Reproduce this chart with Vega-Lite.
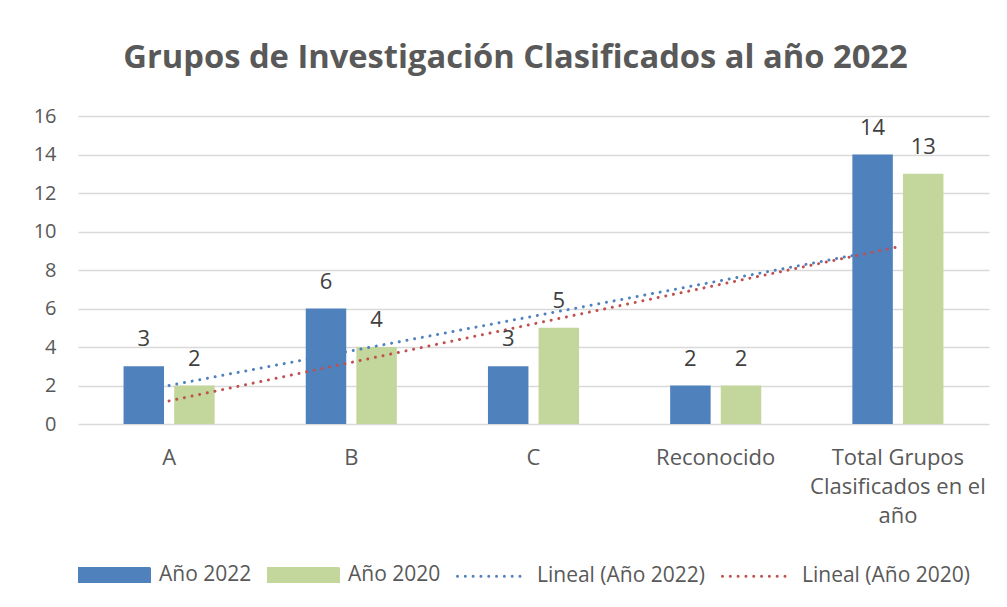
{
  "$schema": "https://vega.github.io/schema/vega-lite/v6.json",
  "width": 911,
  "height": 308,
  "autosize": {"type": "none"},
  "padding": {"left": 78, "top": 116, "right": 18, "bottom": 183},
  "background": "white",
  "title": {
    "text": "Grupos de Investigación Clasificados al año 2022",
    "font": "Open Sans",
    "fontSize": 32.7,
    "fontWeight": "bold",
    "color": "#595959",
    "anchor": "middle",
    "dx": -18,
    "offset": 31
  },
  "config": {
    "view": {"stroke": null},
    "font": "Open Sans"
  },
  "datasets": {
    "barras": [
      {"cat": "A", "serie": "Año 2022", "valor": 3},
      {"cat": "A", "serie": "Año 2020", "valor": 2},
      {"cat": "B", "serie": "Año 2022", "valor": 6},
      {"cat": "B", "serie": "Año 2020", "valor": 4},
      {"cat": "C", "serie": "Año 2022", "valor": 3},
      {"cat": "C", "serie": "Año 2020", "valor": 5},
      {"cat": "Reconocido", "serie": "Año 2022", "valor": 2},
      {"cat": "Reconocido", "serie": "Año 2020", "valor": 2},
      {"cat": "Total Grupos Clasificados en el año", "serie": "Año 2022", "valor": 14},
      {"cat": "Total Grupos Clasificados en el año", "serie": "Año 2020", "valor": 13}
    ],
    "tendencia": [
      {"cat": "A", "serie": "Lineal (Año 2022)", "valor": 2.0},
      {"cat": "B", "serie": "Lineal (Año 2022)", "valor": 3.8},
      {"cat": "C", "serie": "Lineal (Año 2022)", "valor": 5.6},
      {"cat": "Reconocido", "serie": "Lineal (Año 2022)", "valor": 7.4},
      {"cat": "Total Grupos Clasificados en el año", "serie": "Lineal (Año 2022)", "valor": 9.2},
      {"cat": "A", "serie": "Lineal (Año 2020)", "valor": 1.2},
      {"cat": "B", "serie": "Lineal (Año 2020)", "valor": 3.2},
      {"cat": "C", "serie": "Lineal (Año 2020)", "valor": 5.2},
      {"cat": "Reconocido", "serie": "Lineal (Año 2020)", "valor": 7.2},
      {"cat": "Total Grupos Clasificados en el año", "serie": "Lineal (Año 2020)", "valor": 9.2}
    ]
  },
  "encoding": {
    "x": {
      "field": "cat",
      "type": "nominal",
      "sort": null,
      "scale": {
        "domain": ["A", "B", "C", "Reconocido", "Total Grupos Clasificados en el año"],
        "paddingInner": 0.5,
        "paddingOuter": 0.25
      },
      "axis": {
        "title": null,
        "labelAngle": 0,
        "labelFontSize": 22,
        "labelColor": "#595959",
        "labelPadding": 23,
        "labelLineHeight": 29,
        "labelLimit": 0,
        "domain": false,
        "ticks": false,
        "labelExpr": "datum.value == 'Total Grupos Clasificados en el año' ? ['Total Grupos', 'Clasificados en el', 'año'] : datum.value"
      }
    },
    "y": {
      "field": "valor",
      "type": "quantitative",
      "scale": {"domain": [0, 16], "nice": false},
      "axis": {
        "title": null,
        "values": [0, 2, 4, 6, 8, 10, 12, 14, 16],
        "grid": true,
        "gridColor": "#D9D9D9",
        "gridWidth": 1.5,
        "domain": false,
        "ticks": false,
        "labelFontSize": 20,
        "labelColor": "#595959",
        "labelPadding": 22
      }
    }
  },
  "layer": [
    {
      "data": {"name": "barras"},
      "mark": {"type": "bar"},
      "encoding": {
        "xOffset": {
          "field": "serie",
          "type": "nominal",
          "scale": {"domain": ["Año 2022", "Año 2020"], "paddingInner": 0.2, "paddingOuter": 0}
        },
        "color": {
          "field": "serie",
          "type": "nominal",
          "scale": {
            "domain": ["Año 2022", "Año 2020", "Lineal (Año 2022)", "Lineal (Año 2020)"],
            "range": ["#4F81BD", "#C3D69B", "#4F81BD", "#C0504D"]
          },
          "legend": {
            "orient": "bottom",
            "direction": "horizontal",
            "columns": 4,
            "title": null,
            "labelFontSize": 21,
            "labelColor": "#595959",
            "labelOffset": 8,
            "labelLimit": 400,
            "columnPadding": 10,
            "symbolSize": 4900,
            "offset": 12,
            "encode": {
              "symbols": {
                "update": {
                  "shape": {"signal": "datum.index < 2 ? 'M-1,-0.186H1V0.186H-1Z' : 'stroke'"},
                  "fill": {"signal": "datum.index < 2 ? scale('color', datum.value) : 'transparent'"},
                  "stroke": {"signal": "datum.index < 2 ? 'transparent' : scale('color', datum.value)"},
                  "strokeWidth": {"value": 3},
                  "strokeCap": {"value": "round"},
                  "strokeDash": {"signal": "datum.index < 2 ? [1, 0] : [0.01, 7.8]"},
                  "opacity": {"value": 1}
                }
              }
            }
          }
        }
      }
    },
    {
      "data": {"name": "tendencia"},
      "mark": {"type": "line", "strokeWidth": 3, "strokeCap": "round", "strokeDash": [0.01, 7.8]},
      "encoding": {
        "color": {"field": "serie", "type": "nominal"}
      }
    },
    {
      "data": {"name": "barras"},
      "mark": {"type": "text", "dy": -20, "fontSize": 22, "color": "#404040", "baseline": "alphabetic"},
      "encoding": {
        "xOffset": {"field": "serie", "type": "nominal"},
        "text": {"field": "valor", "type": "quantitative"}
      }
    }
  ]
}
